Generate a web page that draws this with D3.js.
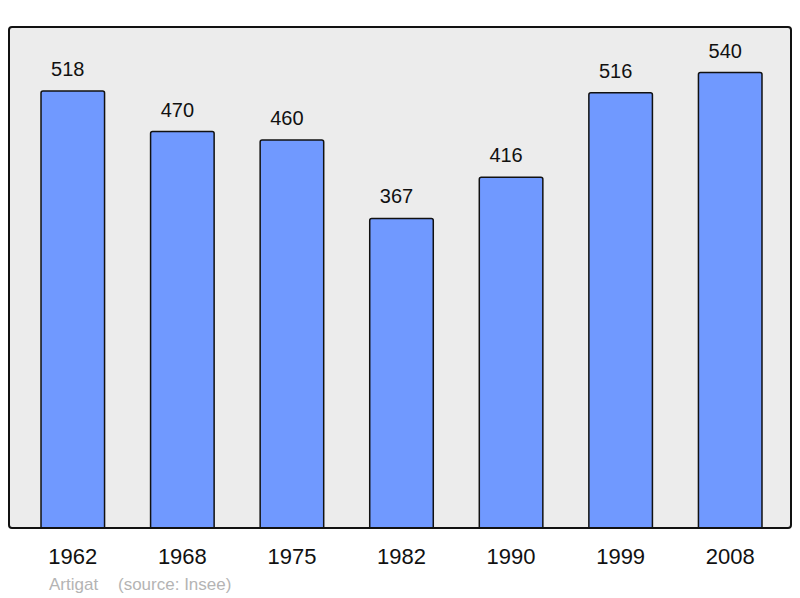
<!DOCTYPE html>
<html>
<head>
<meta charset="utf-8">
<script src="https://cdn.jsdelivr.net/npm/d3@7"></script>
<style>
  body { margin: 0; background: #fff; }
  text { font-family: "Liberation Sans", Arial, sans-serif; }
</style>
</head>
<body>
<svg id="chart" width="800" height="598"></svg>
<script>
// population by census year
const years = ['1962', '1968', '1975', '1982', '1990', '1999', '2008'];
const population = [518, 470, 460, 367, 416, 516, 540];
const yMax = 594;

const svg = d3.select('#chart');

const frame = {left: 9, top: 27, right: 791, bottom: 528};

let x = d3.scaleBand()
  .domain(years)
  .range([18, 785])
  .paddingInner(0.42)
  .paddingOuter(0.21);

let y = d3.scaleLinear()
  .domain([0, yMax])
  .range([frame.bottom, frame.top]);

svg.append('clipPath')
  .attr('id', 'plot-clip')
  .append('rect')
  .attr('x', frame.left)
  .attr('y', frame.top)
  .attr('width', frame.right - frame.left)
  .attr('height', frame.bottom - frame.top);

// plot background
svg.append('rect')
  .attr('x', frame.left)
  .attr('y', frame.top)
  .attr('width', frame.right - frame.left)
  .attr('height', frame.bottom - frame.top)
  .attr('rx', 3)
  .style('fill', '#ececec')
  .style('stroke', 'none');

let data = years.map((yr, i) => ({year: yr, value: population[i]}));

svg.append('g')
  .attr('clip-path', 'url(#plot-clip)')
  .selectAll('.bar')
  .data(data)
  .join('rect')
  .classed('bar', true)
  .attr('x', d => x(d.year))
  .attr('y', d => y(d.value))
  .attr('width', x.bandwidth())
  .attr('height', d => frame.bottom - y(d.value) + 6)
  .attr('rx', 2)
  .style('fill', '#7099ff')
  .style('stroke', '#111')
  .style('stroke-width', 1.5);

// frame outline on top
svg.append('rect')
  .attr('x', frame.left)
  .attr('y', frame.top)
  .attr('width', frame.right - frame.left)
  .attr('height', frame.bottom - frame.top)
  .attr('rx', 3)
  .style('fill', 'none')
  .style('stroke', '#111')
  .style('stroke-width', 2);

svg.selectAll('.value-label')
  .data(data)
  .join('text')
  .classed('value-label', true)
  .attr('x', d => x(d.year) + x.bandwidth() / 2 - 5)
  .attr('y', d => y(d.value) - 15)
  .attr('text-anchor', 'middle')
  .style('font-size', '20px')
  .style('fill', '#111')
  .text(d => d.value);

svg.selectAll('.year-label')
  .data(years)
  .join('text')
  .classed('year-label', true)
  .attr('x', d => x(d) + x.bandwidth() / 2)
  .attr('y', 564)
  .attr('text-anchor', 'middle')
  .style('font-size', '22px')
  .style('fill', '#111')
  .text(d => d);

svg.append('text')
  .attr('x', 49)
  .attr('y', 590)
  .style('font-size', '17px')
  .style('fill', '#b4b4b4')
  .text('Artigat');

svg.append('text')
  .attr('x', 118)
  .attr('y', 590)
  .style('font-size', '17px')
  .style('fill', '#b4b4b4')
  .text('(source: Insee)');
</script>
</body>
</html>
